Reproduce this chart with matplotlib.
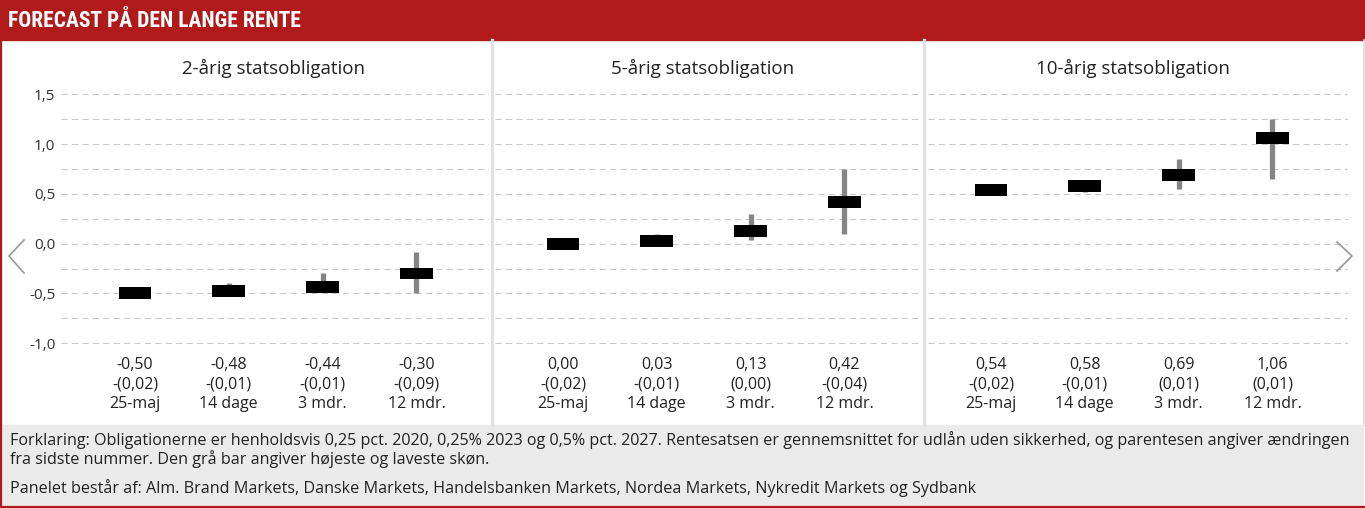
import matplotlib
matplotlib.use("Agg")
import matplotlib.pyplot as plt
from matplotlib.lines import Line2D
from matplotlib.patches import Rectangle

W, H = 1365, 508

# data
periods = ["25-maj", "14 dage", "3 mdr.", "12 mdr."]
panel_titles = ["2-årig statsobligation", "5-årig statsobligation", "10-årig statsobligation"]

rate_2y = [-0.50, -0.48, -0.44, -0.30]
chg_2y = [-0.02, -0.01, -0.01, -0.09]
high_2y = [-0.50, -0.40, -0.30, -0.08]
low_2y = [-0.50, -0.52, -0.48, -0.50]

rate_5y = [0.00, 0.03, 0.13, 0.42]
chg_5y = [-0.02, -0.01, 0.00, -0.04]
high_5y = [0.00, 0.10, 0.30, 0.75]
low_5y = [0.00, 0.00, 0.04, 0.10]

rate_10y = [0.54, 0.58, 0.69, 1.06]
chg_10y = [-0.02, -0.01, 0.01, 0.01]
high_10y = [0.54, 0.62, 0.85, 1.25]
low_10y = [0.54, 0.52, 0.55, 0.65]

yticks = [1.5, 1.0, 0.5, 0.0, -0.5, -1.0]

footer_lines = [
    "Forklaring: Obligationerne er henholdsvis 0,25 pct. 2020, 0,25% 2023 og 0,5% pct. 2027. "
    "Rentesatsen er gennemsnittet for udlån uden sikkerhed, og parentesen angiver ændringen",
    "fra sidste nummer. Den grå bar angiver højeste og laveste skøn.",
    "Panelet består af: Alm. Brand Markets, Danske Markets, Handelsbanken Markets, Nordea Markets, Nykredit Markets og Sydbank",
]

RED = "#b01a1b"
plt.rcParams["font.family"] = ["Open Sans", "DejaVu Sans"]


def dk(v):
    return f"{v:.2f}".replace(".", ",")


def chg_label(c):
    s = "(" + dk(abs(c)) + ")"
    return "-" + s if c < 0 else s


def fx(x):
    return x / W


def fy(y):
    return 1 - y / H


fig = plt.figure(figsize=(W / 100, H / 100), dpi=100)

# title bar
fig.patches.append(Rectangle((0, fy(40)), 1, 40 / H, transform=fig.transFigure,
                             color=RED, zorder=0))
fig.text(fx(8), fy(21), "FORECAST PÅ DEN LANGE RENTE", color="white",
         fontsize=15.5, fontweight="bold",
         family=["Roboto Condensed", "Liberation Sans Narrow", "Roboto", "DejaVu Sans"],
         stretch="condensed", va="center", ha="left")

# footer box
fig.patches.append(Rectangle((fx(2), fy(505)), fx(1361), 80 / H,
                             transform=fig.transFigure, color="#ebebeb", zorder=0))
for txt, y in zip(footer_lines, [440, 459, 488]):
    fig.text(fx(10), fy(y), txt, fontsize=11.6, color="#222222", va="center", ha="left")

# borders and panel separators
fig.lines.append(Line2D([fx(1), fx(1)], [fy(40), fy(507)], transform=fig.transFigure,
                        color=RED, lw=1.6))
fig.lines.append(Line2D([0, 1], [fy(506.5), fy(506.5)], transform=fig.transFigure,
                        color=RED, lw=1.6))
fig.lines.append(Line2D([fx(1363.5), fx(1363.5)], [fy(40), fy(425)], transform=fig.transFigure,
                        color="#dddddd", lw=1.2))
for sx in [492, 924]:
    fig.lines.append(Line2D([fx(sx), fx(sx)], [fy(40), fy(425)], transform=fig.transFigure,
                            color="#e2e2e2", lw=2.4))

# navigation chevrons
fig.lines.append(Line2D([fx(24), fx(9), fx(24)], [fy(240), fy(256), fy(273)],
                        transform=fig.transFigure, color="#999999", lw=1.2))
fig.lines.append(Line2D([fx(1337), fx(1352), fx(1337)], [fy(242), fy(256), fy(271)],
                        transform=fig.transFigure, color="#999999", lw=1.2))

# panels: (left px, right px, first category center px)
panels = [(61, 489, 135), (495, 922, 563), (928, 1348, 991)]
title_x = [274, 703, 1133]
series = [
    (rate_2y, chg_2y, high_2y, low_2y),
    (rate_5y, chg_5y, high_5y, low_5y),
    (rate_10y, chg_10y, high_10y, low_10y),
]
step = 93.8
top_px, bot_px = 88, 350
zero_px, unit_px = 243.6, 99.6

for i, ((left, right, c0), (rate, chg, hi, lo)) in enumerate(zip(panels, series)):
    ax = fig.add_axes([fx(left), fy(bot_px), (right - left) / W, (bot_px - top_px) / H])
    xmin = -(c0 - left) / step
    ax.set_xlim(xmin, xmin + (right - left) / step)
    ax.set_ylim((zero_px - bot_px) / unit_px, (zero_px - top_px) / unit_px)
    x = list(range(len(periods)))

    ax.vlines(x, lo, hi, color="#858585", lw=3.8, zorder=2)
    ax.bar(x, 0.12, bottom=[r - 0.06 for r in rate], width=0.35, color="black", zorder=3)

    ax.set_yticks(yticks)
    ax.set_yticks([-0.75, -0.25, 0.25, 0.75, 1.25], minor=True)
    ax.grid(True, axis="y", which="both", color="#c8c8c8", lw=0.75, linestyle=(0, (6, 4)))
    ax.set_axisbelow(True)
    if i == 0:
        ax.set_yticklabels([dk(v)[:-1] for v in yticks], fontsize=11, color="#333333")
    else:
        ax.set_yticklabels([])
    ax.tick_params(axis="y", which="both", length=0, pad=4)

    ax.set_xticks(x)
    ax.set_xticklabels([f"{dk(r)}\n{chg_label(c)}\n{p}" for r, c, p in zip(rate, chg, periods)],
                       fontsize=11.5, color="#222222", linespacing=1.3)
    ax.tick_params(axis="x", length=0, pad=5)
    for s in ax.spines.values():
        s.set_visible(False)
    ax.patch.set_alpha(0)

    fig.text(fx(title_x[i]), fy(68), panel_titles[i], fontsize=13.5, color="#222222",
             ha="center", va="center")

fig.savefig("out.png", dpi=100)
